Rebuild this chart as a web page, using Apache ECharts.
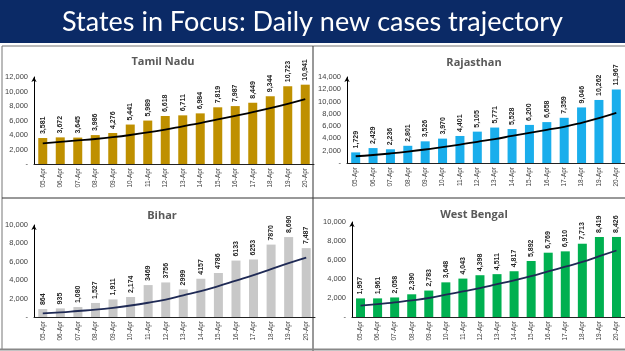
<!DOCTYPE html>
<html><head><meta charset="utf-8">
<script src="https://cdn.jsdelivr.net/npm/echarts@6/dist/echarts.min.js"></script>
<style>html,body{margin:0;padding:0;background:#fff}#c{width:625px;height:351px}</style>
</head><body><div id="c"></div>
<script>
const categories = ['05-Apr','06-Apr','07-Apr','08-Apr','09-Apr','10-Apr','11-Apr','12-Apr','13-Apr','14-Apr','15-Apr','16-Apr','17-Apr','18-Apr','19-Apr','20-Apr'];
const tamilNadu = [3581,3672,3645,3986,4276,5441,5989,6618,6711,6984,7819,7987,8449,9344,10723,10941];
const tamilNaduTrend = [2850,3050,3250,3450,3700,4000,4350,4750,5200,5650,6150,6650,7150,7700,8300,8950];
const rajasthan = [1729,2429,2236,2801,3526,3970,4401,5105,5771,5528,6200,6658,7359,9046,10262,11967];
const rajasthanTrend = [1100,1300,1550,1850,2200,2600,3000,3450,3900,4400,4900,5400,5900,6550,7300,8150];
const bihar = [864,935,1080,1527,1911,2174,3469,3756,2999,4157,4786,6133,6253,7870,8690,7487];
const biharTrend = [400,500,650,800,1000,1250,1550,1900,2350,2800,3350,3950,4550,5200,5850,6450];
const biharLabels = ['864','935','1,080','1,527','1,911','2,174','3469','3756','2999','4157','4786','6133','6253','7870','8,690','7,487'];
const westBengal = [1957,1961,2058,2390,2783,3648,4043,4398,4511,4817,5892,6769,6910,7713,8419,8426];
const westBengalTrend = [1200,1350,1550,1750,2000,2350,2700,3050,3450,3850,4300,4800,5300,5800,6400,7000];

const fmt = v => v === 0 ? '-' : v.toLocaleString('en-US');
const panels = [
  {name:'Tamil Nadu', data:tamilNadu, trend:tamilNaduTrend, color:'#BF9000', line:'#000000', max:12000, grid:{left:34,top:77,width:280,height:87}, tx:158, ty:51},
  {name:'Rajasthan', data:rajasthan, trend:rajasthanTrend, color:'#1AAEEC', line:'#000000', max:14000, grid:{left:347,top:77,width:278,height:86}, tx:469, ty:52},
  {name:'Bihar', data:bihar, trend:biharTrend, labels:biharLabels, color:'#C8C8C8', line:'#1F2A55', max:10000, grid:{left:34,top:225,width:281,height:92}, tx:157, ty:205},
  {name:'West Bengal', data:westBengal, trend:westBengalTrend, color:'#00B050', line:'#1F2A55', max:10000, grid:{left:352,top:222,width:273,height:95}, tx:469, ty:204}
];

const grid=[], xAxis=[], yAxis=[], series=[], title=[];
title.push({text:'States in Focus: Daily new cases trajectory', left:'center', top:4,
  textStyle:{color:'#fff', fontSize:27, fontWeight:'normal', fontFamily:'Lato'}});
panels.forEach((p,i)=>{
  grid.push(p.grid);
  title.push({text:p.name, left:p.tx, top:p.ty, textAlign:'center',
    textStyle:{color:'#595959', fontSize:11, fontWeight:'bold', fontFamily:'Open Sans'}});
  xAxis.push({type:'category', gridIndex:i, data:categories,
    axisLine:{lineStyle:{color:'#222', width:1}}, axisTick:{show:false},
    axisLabel:{rotate:90, fontSize:6.5, color:'#404040', margin:4, interval:0, fontFamily:'Liberation Sans'}});
  yAxis.push({type:'value', gridIndex:i, min:0, max:p.max, interval:2000,
    splitLine:{show:false},
    axisLine:{show:true, lineStyle:{color:'#000', width:1}, symbol:['none','arrow'], symbolSize:[4,5]},
    axisTick:{show:false},
    axisLabel:{fontSize:7.5, color:'#404040', margin:6, formatter:fmt, fontFamily:'Liberation Sans'}});
  series.push({type:'bar', xAxisIndex:i, yAxisIndex:i, data:p.data, barWidth:9,
    itemStyle:{color:p.color},
    label:{show:true, position:'top', rotate:90, align:'left', verticalAlign:'middle', distance:4,
      fontSize:7, fontWeight:'bold', color:'#262626', fontFamily:'Liberation Sans',
      formatter: d => p.labels ? p.labels[d.dataIndex] : d.value.toLocaleString('en-US')}});
  series.push({type:'line', xAxisIndex:i, yAxisIndex:i, data:p.trend, smooth:true, symbol:'none',
    lineStyle:{color:p.line, width:1.8}, z:5});
});

const chart = echarts.init(document.getElementById('c'), null, {renderer:'canvas'});
chart.setOption({
  animation:false,
  graphic:[
    {type:'rect', shape:{x:0,y:0,width:625,height:43}, style:{fill:'#0B2A66'}, z:-1},
    {type:'line', shape:{x1:2,y1:46,x2:625,y2:46}, style:{stroke:'#777', lineWidth:1}},
    {type:'line', shape:{x1:2,y1:46,x2:2,y2:349}, style:{stroke:'#777', lineWidth:1}},
    {type:'line', shape:{x1:313,y1:46,x2:313,y2:351}, style:{stroke:'#333', lineWidth:1}},
    {type:'line', shape:{x1:2,y1:198,x2:625,y2:198}, style:{stroke:'#333', lineWidth:1}},
    {type:'line', shape:{x1:0,y1:349.5,x2:625,y2:349.5}, style:{stroke:'#888', lineWidth:2}}
  ],
  title, grid, xAxis, yAxis, series
});
</script></body></html>
